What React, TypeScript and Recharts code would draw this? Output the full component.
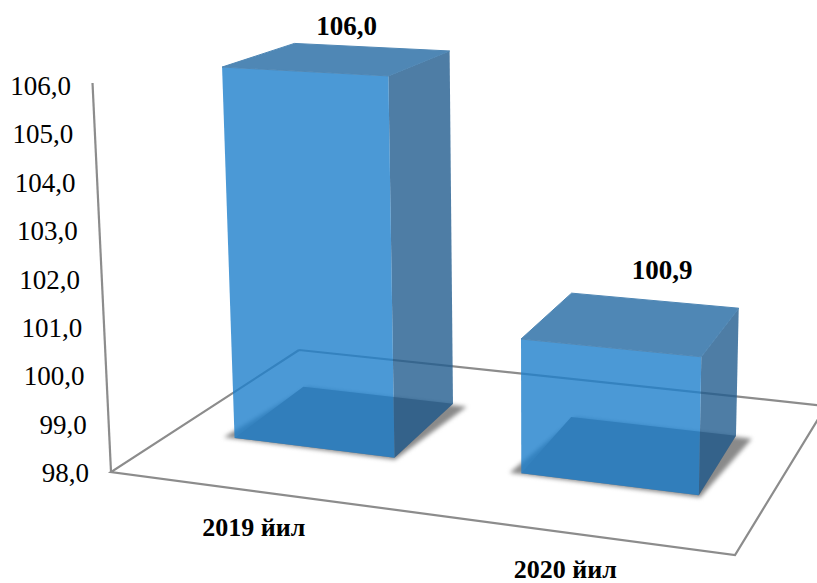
import React from 'react';
import { BarChart, Bar, XAxis, YAxis, LabelList, Customized } from 'recharts';

const categories = ['2019 йил', '2020 йил'];
const growth = [106.0, 100.9];
const valueTicks = [98, 99, 100, 101, 102, 103, 104, 105, 106];

const data = categories.map((year, i) => ({ year, growth: growth[i] }));

const FONT = "'Liberation Serif', 'Times New Roman', serif";
const CHART_W = 817;
const CHART_H = 583;
const PLOT_LEFT = 111;
const PLOT_TOP = 86;
const PLOT_W = 624;
const PLOT_H = 387;
const PLOT_SHIFT = 2;

// the picture is a 3D box seen from above, so the flat plot gets projected onto a floor
const FRONT_DEPTH = 0.3;
const BACK_DEPTH = 0.71;
const BACK_SKEW = -0.008;
const WALL_H = 389;
const VANISH = { x: 540, y: 9500 };

const fmt = (v: number) => v.toFixed(1).replace('.', ',');

const perspective = (u: number, d: number) => 1 - 0.1052 * u + 0.2022 * d;

const floorPoint = (u: number, d: number) => {
  const w = perspective(u, d);
  return {
    x: (546.7 * u + 248.5 * d + 111) / w,
    y: (24.6 * u - 51.2 * d + 472) / w,
  };
};

const lift = (u: number, d: number, t: number) => {
  const p = floorPoint(u, d);
  const px = ((WALL_H / perspective(u, d)) * t) / (1 + 0.084 * (1 - t));
  return {
    x: p.x + ((p.x - VANISH.x) / (VANISH.y - p.y)) * px,
    y: p.y - px,
  };
};

const toPoints = (pts: { x: number; y: number }[]) =>
  pts.map((p) => `${p.x},${p.y}`).join(' ');

const boxCorners = (x: number, width: number, height: number) => {
  const u0 = (x - PLOT_LEFT) / PLOT_W;
  const u1 = (x + width - PLOT_LEFT) / PLOT_W;
  const t = height / PLOT_H;
  const backU0 = u0 + BACK_SKEW;
  const backU1 = u1 + BACK_SKEW;
  return {
    u0,
    u1,
    floorFL: floorPoint(u0, FRONT_DEPTH),
    floorFR: floorPoint(u1, FRONT_DEPTH),
    floorBR: floorPoint(backU1, BACK_DEPTH),
    floorBL: floorPoint(backU0, BACK_DEPTH),
    topFL: lift(u0, FRONT_DEPTH, t),
    topFR: lift(u1, FRONT_DEPTH, t),
    topBR: lift(backU1, BACK_DEPTH, t),
    topBL: lift(backU0, BACK_DEPTH, t),
  };
};

const Box3D = (props: any) => {
  const { x, width, height } = props;
  const c = boxCorners(x, width, height);
  const shadow = [
    floorPoint(c.u0 - 0.018, FRONT_DEPTH - 0.005),
    floorPoint(c.u1 + 0.004, FRONT_DEPTH - 0.012),
    floorPoint(c.u1 + 0.02, BACK_DEPTH - 0.01),
    floorPoint(c.u0, BACK_DEPTH),
  ];
  return (
    <g>
      <polygon
        points={toPoints(shadow)}
        fill='#8a8a8a'
        style={{ filter: 'blur(2px)' }}
      />
      <polygon
        points={toPoints([c.floorFL, c.floorFR, c.floorBR, c.floorBL])}
        fill='#7d7878'
        style={{ filter: 'blur(0.6px)' }}
      />
      <polygon
        points={toPoints([c.floorFR, c.floorBR, c.topBR, c.topFR])}
        fill='#225c8e'
        fillOpacity={0.8}
      />
      <polygon
        points={toPoints([c.floorFL, c.floorFR, c.topFR, c.topFL])}
        fill='#1e80cc'
        fillOpacity={0.8}
      />
      <polygon
        points={toPoints([c.topFL, c.topFR, c.topBR, c.topBL])}
        fill='#4f87b5'
        stroke='#4f87b5'
        strokeLinejoin='round'
      />
    </g>
  );
};

const FloorFrame = () => {
  const frontLeft = floorPoint(0, 0);
  const wallTop = lift(0, 0, 1);
  const line = { stroke: '#8c8c8c', strokeWidth: 2.2, fill: 'none' };
  return (
    <g>
      <polyline points={toPoints([wallTop, frontLeft])} {...line} />
      <polyline
        points={toPoints([
          floorPoint(0, 1),
          frontLeft,
          floorPoint(1, 0),
          floorPoint(1, 1),
          floorPoint(0, 1),
        ])}
        {...line}
      />
    </g>
  );
};

const ValueTick = ({ y, payload }: any) => (
  <text
    x={71 + (106 - payload.value) * 2.25}
    y={y + 9}
    textAnchor='end'
    fontFamily={FONT}
    fontSize={27}
    fill='#000'
  >
    {fmt(payload.value)}
  </text>
);

const YearTick = ({ x, payload }: any) => {
  const p = floorPoint((x - PLOT_LEFT) / PLOT_W, 0);
  return (
    <text
      x={p.x - 2.5}
      y={p.y + 45}
      textAnchor='middle'
      fontFamily={FONT}
      fontSize={26}
      fontWeight='bold'
      fill='#000'
    >
      {payload.value}
    </text>
  );
};

const labelNudge = [
  [8, -24],
  [29, -45],
];

const ValueLabel = ({ x, width, height, value, index }: any) => {
  const c = boxCorners(x, width, height);
  const pts = [c.topFL, c.topFR, c.topBR, c.topBL];
  const cx = pts.reduce((s, p) => s + p.x, 0) / 4;
  const cy = pts.reduce((s, p) => s + p.y, 0) / 4;
  return (
    <text
      x={cx + labelNudge[index][0]}
      y={cy + labelNudge[index][1]}
      textAnchor='middle'
      fontFamily={FONT}
      fontSize={27}
      fontWeight='bold'
      fill='#000'
    >
      {fmt(value)}
    </text>
  );
};

export default function App() {
  return (
    <div style={{ position: 'absolute', left: 0, top: 0 }}>
      <BarChart
        width={CHART_W}
        height={CHART_H}
        data={data}
        margin={{
          top: PLOT_TOP,
          right: CHART_W - PLOT_LEFT - PLOT_W - PLOT_SHIFT,
          left: PLOT_SHIFT,
          bottom: 0,
        }}
        barCategoryGap='21.5%'
      >
        <XAxis
          dataKey='year'
          height={CHART_H - PLOT_TOP - PLOT_H}
          axisLine={false}
          tickLine={false}
          tick={<YearTick />}
        />
        <YAxis
          width={PLOT_LEFT}
          domain={[98, 106]}
          ticks={valueTicks}
          interval={0}
          axisLine={false}
          tickLine={false}
          tick={<ValueTick />}
        />
        <Customized component={FloorFrame} />
        <Bar dataKey='growth' shape={<Box3D />} isAnimationActive={false}>
          <LabelList dataKey='growth' content={<ValueLabel />} />
        </Bar>
      </BarChart>
    </div>
  );
}
